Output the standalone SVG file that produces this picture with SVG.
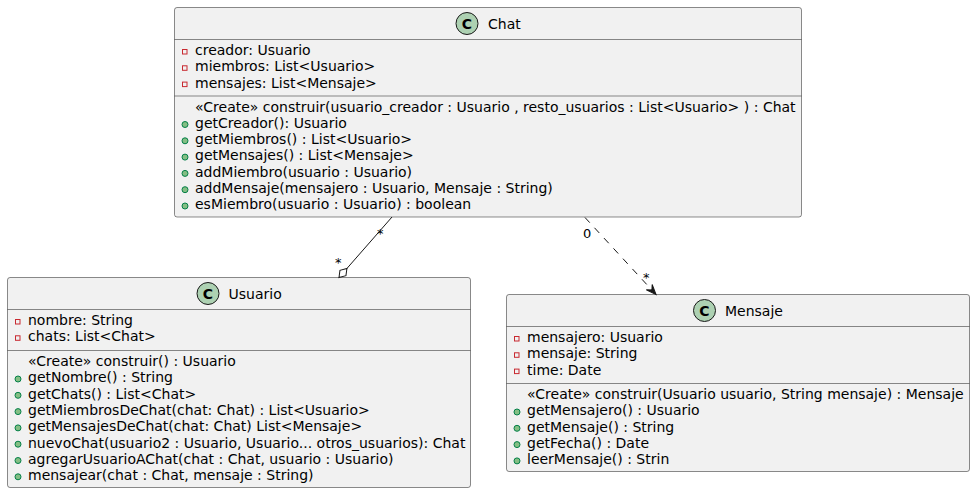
<svg xmlns="http://www.w3.org/2000/svg" width="975" height="494" viewBox="0 0 975 494">
<style>
text{font-family:"DejaVu Sans","Noto Sans",sans-serif;font-size:14px;fill:#000000}
.box{fill:#F1F1F1;stroke:#181818;stroke-width:0.5}
.sep{stroke:#181818;stroke-width:0.5}
.ci{fill:#ADD1B2;stroke:#181818;stroke-width:1}
.cl{font-size:14px;font-weight:bold;text-anchor:middle}
.priv{fill:none;stroke:#C82930;stroke-width:1}
.pub{fill:#84BE84;stroke:#038048;stroke-width:1}
.lbl{font-size:13px}
.edge{fill:none;stroke:#181818;stroke-width:1}
</style>
<defs>
<marker id="diamond" markerUnits="userSpaceOnUse" viewBox="-14 -6 16 12" refX="0" refY="0" markerWidth="16" markerHeight="12" orient="auto">
<path d="M0,0 L-6,-4 L-12,0 L-6,4 Z" fill="#FFFFFF" stroke="#181818" stroke-width="1"/>
</marker>
<marker id="arrow" markerUnits="userSpaceOnUse" viewBox="-12 -6 14 12" refX="0" refY="0" markerWidth="14" markerHeight="12" orient="auto">
<path d="M0,0 L-10,-4 L-6,0 L-10,4 Z" fill="#181818" stroke="#181818" stroke-width="1"/>
</marker>
</defs>

<g id="Chat">
<rect class="box" x="174.5" y="7.5" width="627" height="209.5" rx="2.5"/>
<circle class="ci" cx="467" cy="23.5" r="11"/>
<text class="cl" x="467" y="28.5">C</text>
<text x="488" y="28.5">Chat</text>
<line class="sep" x1="174.5" y1="39.5" x2="801.5" y2="39.5"/>
<rect class="priv" x="182.5" y="49.5" width="4.5" height="4.5"/>
<text x="195" y="55">creador: Usuario</text>
<rect class="priv" x="182.5" y="65.8" width="4.5" height="4.5"/>
<text x="195" y="71.3">miembros: List&lt;Usuario&gt;</text>
<rect class="priv" x="182.5" y="82.1" width="4.5" height="4.5"/>
<text x="195" y="87.6">mensajes: List&lt;Mensaje&gt;</text>
<line class="sep" x1="174.5" y1="96" x2="801.5" y2="96"/>
<text x="195" y="111.5">«Create» construir(usuario_creador : Usuario , resto_usuarios : List&lt;Usuario&gt; ) : Chat</text>
<circle class="pub" cx="185" cy="124.5" r="3"/>
<text x="195" y="127.8">getCreador(): Usuario</text>
<circle class="pub" cx="185" cy="140.8" r="3"/>
<text x="195" y="144.1">getMiembros() : List&lt;Usuario&gt;</text>
<circle class="pub" cx="185" cy="157.1" r="3"/>
<text x="195" y="160.4">getMensajes() : List&lt;Mensaje&gt;</text>
<circle class="pub" cx="185" cy="173.4" r="3"/>
<text x="195" y="176.7">addMiembro(usuario : Usuario)</text>
<circle class="pub" cx="185" cy="189.7" r="3"/>
<text x="195" y="193">addMensaje(mensajero : Usuario, Mensaje : String)</text>
<circle class="pub" cx="185" cy="206" r="3"/>
<text x="195" y="209.3">esMiembro(usuario : Usuario) : boolean</text>
</g>

<g id="Usuario">
<rect class="box" x="7.5" y="277.5" width="463" height="210" rx="2.5"/>
<circle class="ci" cx="208" cy="293.5" r="11"/>
<text class="cl" x="208" y="298.5">C</text>
<text x="228.5" y="298.5">Usuario</text>
<line class="sep" x1="7.5" y1="309.5" x2="470.5" y2="309.5"/>
<rect class="priv" x="15.5" y="319.5" width="4.5" height="4.5"/>
<text x="28" y="325">nombre: String</text>
<rect class="priv" x="15.5" y="335.8" width="4.5" height="4.5"/>
<text x="28" y="341.3">chats: List&lt;Chat&gt;</text>
<line class="sep" x1="7.5" y1="350.5" x2="470.5" y2="350.5"/>
<text x="28" y="366">«Create» construir() : Usuario</text>
<circle class="pub" cx="18" cy="379" r="3"/>
<text x="28" y="382.3">getNombre() : String</text>
<circle class="pub" cx="18" cy="395.3" r="3"/>
<text x="28" y="398.6">getChats() : List&lt;Chat&gt;</text>
<circle class="pub" cx="18" cy="411.6" r="3"/>
<text x="28" y="414.9">getMiembrosDeChat(chat: Chat) : List&lt;Usuario&gt;</text>
<circle class="pub" cx="18" cy="427.9" r="3"/>
<text x="28" y="431.2">getMensajesDeChat(chat: Chat) List&lt;Mensaje&gt;</text>
<circle class="pub" cx="18" cy="444.2" r="3"/>
<text x="28" y="447.5">nuevoChat(usuario2 : Usuario, Usuario... otros_usuarios): Chat</text>
<circle class="pub" cx="18" cy="460.5" r="3"/>
<text x="28" y="463.8">agregarUsuarioAChat(chat : Chat, usuario : Usuario)</text>
<circle class="pub" cx="18" cy="476.8" r="3"/>
<text x="28" y="480.1">mensajear(chat : Chat, mensaje : String)</text>
</g>

<g id="Mensaje">
<rect class="box" x="506.5" y="294.5" width="463" height="177" rx="2.5"/>
<circle class="ci" cx="704.5" cy="310.5" r="11"/>
<text class="cl" x="704.5" y="315.5">C</text>
<text x="725" y="315.5">Mensaje</text>
<line class="sep" x1="506.5" y1="326.5" x2="969.5" y2="326.5"/>
<rect class="priv" x="514.5" y="336.5" width="4.5" height="4.5"/>
<text x="527" y="342">mensajero: Usuario</text>
<rect class="priv" x="514.5" y="352.8" width="4.5" height="4.5"/>
<text x="527" y="358.3">mensaje: String</text>
<rect class="priv" x="514.5" y="369.1" width="4.5" height="4.5"/>
<text x="527" y="374.6">time: Date</text>
<line class="sep" x1="506.5" y1="383.5" x2="969.5" y2="383.5"/>
<text x="527" y="399">«Create» construir(Usuario usuario, String mensaje) : Mensaje</text>
<circle class="pub" cx="517" cy="412" r="3"/>
<text x="527" y="415.3">getMensajero() : Usuario</text>
<circle class="pub" cx="517" cy="428.3" r="3"/>
<text x="527" y="431.6">getMensaje() : String</text>
<circle class="pub" cx="517" cy="444.6" r="3"/>
<text x="527" y="447.9">getFecha() : Date</text>
<circle class="pub" cx="517" cy="460.9" r="3"/>
<text x="527" y="464.2">leerMensaje() : Strin</text>
</g>

<g id="connectors">
<path class="edge" d="M392,217 L339,277.5" marker-end="url(#diamond)"/>
<text class="lbl" x="377" y="238">*</text>
<text class="lbl" x="335" y="267">*</text>
<path class="edge" d="M585,217.5 L656,294.5" stroke-dasharray="7,7" marker-end="url(#arrow)"/>
<text class="lbl" x="583" y="238">0</text>
<text class="lbl" x="643" y="282">*</text>
</g>
</svg>
